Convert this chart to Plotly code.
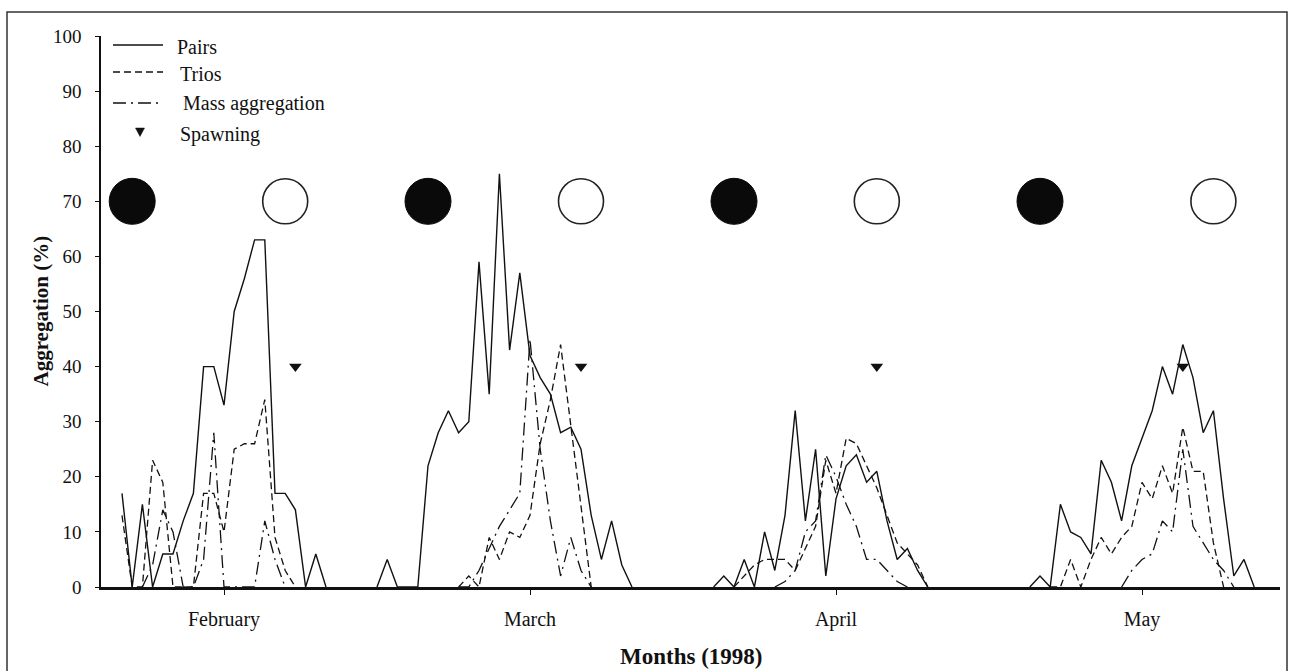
import plotly.graph_objects as go

# ---------------- data (day index: Feb tick = 15, Mar = 45, Apr = 75, May = 105) ----------------
MONTH_TICK_DAYS = [15, 45, 75, 105]
MONTH_LABELS = ["February", "March", "April", "May"]

PAIRS_FEB_START = 5
PAIRS_FEB = [17, 0, 15, 0, 6, 6, 12, 17, 40, 40, 33, 50, 56, 63, 63, 17, 17, 14, 0, 6, 0]
PAIRS_MAR_START = 30
PAIRS_MAR = [0, 5, 0, 0, 0, 22, 28, 32, 28, 30, 59, 35, 75, 43, 57, 42, 38, 35, 28, 29, 25, 13, 5, 12, 4, 0]
PAIRS_APR_START = 63
PAIRS_APR = [0, 2, 0, 5, 0, 10, 3, 13, 32, 12, 25, 2, 16, 22, 24, 19, 21, 12, 5, 7, 3, 0]
PAIRS_MAY_START = 94
PAIRS_MAY = [0, 2, 0, 15, 10, 9, 6, 23, 19, 12, 22, 27, 32, 40, 35, 44, 38, 28, 32, 16, 2, 5, 0]

TRIOS_FEB_START = 5
TRIOS_FEB = [13, 0, 0, 23, 19, 0, 0, 0, 17, 17, 10, 25, 26, 26, 34, 9, 3, 0]
TRIOS_MAR_START = 38
TRIOS_MAR = [0, 2, 0, 9, 5, 10, 9, 13, 26, 34, 44, 29, 14, 0]
TRIOS_APR_START = 65
TRIOS_APR = [0, 2, 4, 5, 5, 5, 3, 7, 11, 23, 17, 27, 26, 22, 18, 13, 8, 6, 4, 0]
TRIOS_MAY_START = 96
TRIOS_MAY = [0, 0, 5, 0, 5, 9, 6, 9, 11, 19, 16, 22, 17, 29, 21, 21, 8, 0]

MASS_FEB_START = 7
MASS_FEB = [0, 4, 14, 10, 0, 0, 5, 28, 0, 0, 0, 0, 12, 5, 0]
MASS_MAR_START = 38
MASS_MAR = [0, 0, 3, 7, 11, 14, 17, 45, 25, 12, 2, 9, 3, 0]
MASS_APR_START = 69
MASS_APR = [0, 1, 3, 10, 12, 24, 20, 15, 11, 5, 5, 3, 1, 0]
MASS_MAY_START = 103
MASS_MAY = [0, 3, 5, 6, 12, 10, 25, 11, 8, 5, 3, 0]

SPAWN_DAYS = [22, 50, 79, 109]
SPAWN_VALUES = [40, 40, 40, 40]

NEW_MOON_DAYS = [6, 35, 65, 95]
FULL_MOON_DAYS = [21, 50, 79, 112]
MOON_LEVEL = 70

Y_TICKS = list(range(0, 101, 10))


def build(segments):
    xs, ys = [], []
    for start, vals in segments:
        xs += [start + i for i in range(len(vals))] + [None]
        ys += list(vals) + [None]
    return xs, ys


px_, py_ = build([(PAIRS_FEB_START, PAIRS_FEB), (PAIRS_MAR_START, PAIRS_MAR),
                  (PAIRS_APR_START, PAIRS_APR), (PAIRS_MAY_START, PAIRS_MAY)])
tx_, ty_ = build([(TRIOS_FEB_START, TRIOS_FEB), (TRIOS_MAR_START, TRIOS_MAR),
                  (TRIOS_APR_START, TRIOS_APR), (TRIOS_MAY_START, TRIOS_MAY)])
mx_, my_ = build([(MASS_FEB_START, MASS_FEB), (MASS_MAR_START, MASS_MAR),
                  (MASS_APR_START, MASS_APR), (MASS_MAY_START, MASS_MAY)])

FONT = "Liberation Serif, Times New Roman, serif"
TRIOS_DASH = "7px,4px"
MASS_DASH = "13px,5px,2px,5px"

fig = go.Figure()
fig.add_trace(go.Scatter(x=mx_, y=my_, mode="lines", name="Mass aggregation",
                         line=dict(color="#111", width=1.3, dash=MASS_DASH), connectgaps=False))
fig.add_trace(go.Scatter(x=tx_, y=ty_, mode="lines", name="Trios",
                         line=dict(color="#111", width=1.3, dash=TRIOS_DASH), connectgaps=False))
fig.add_trace(go.Scatter(x=px_, y=py_, mode="lines", name="Pairs",
                         line=dict(color="#111", width=1.4), connectgaps=False))
fig.add_trace(go.Scatter(x=SPAWN_DAYS, y=SPAWN_VALUES, mode="markers", name="Spawning",
                         marker=dict(symbol="triangle-down", size=11, color="#111")))
fig.add_trace(go.Scatter(x=NEW_MOON_DAYS, y=[MOON_LEVEL] * len(NEW_MOON_DAYS), mode="markers",
                         marker=dict(symbol="circle", size=46, color="#0a0a0a",
                                     line=dict(color="#0a0a0a", width=1))))
fig.add_trace(go.Scatter(x=FULL_MOON_DAYS, y=[MOON_LEVEL] * len(FULL_MOON_DAYS), mode="markers",
                         marker=dict(symbol="circle", size=45, color="white",
                                     line=dict(color="#222", width=1.6))))

# pixel geometry of the plot area
L, R, T, B = 101, 1280, 36, 587


def pxx(p):
    return (p - L) / (R - L)


def pyy(p):
    return (B - p) / (B - T)


shapes = [
    dict(type="rect", xref="paper", yref="paper", x0=pxx(7), x1=pxx(1287), y0=pyy(690), y1=pyy(12),
         line=dict(color="#333", width=1.5)),
]
annotations = []
legend_items = [
    ("Pairs", 45, 47, None, 175),
    ("Trios", 72, 74, TRIOS_DASH, 178),
    ("Mass aggregation", 103, 104, MASS_DASH, 181),
]
for text, ly, ty, dash, tx in legend_items:
    ln = dict(color="#111", width=1.4)
    if dash:
        ln["dash"] = dash
    shapes.append(dict(type="line", xref="paper", yref="paper", x0=pxx(113), x1=pxx(163),
                       y0=pyy(ly), y1=pyy(ly), line=ln))
    annotations.append(dict(text=text, xref="paper", yref="paper", x=pxx(tx), y=pyy(ty),
                            xanchor="left", yanchor="middle", showarrow=False,
                            font=dict(family=FONT, size=20, color="#111")))
# spawning legend glyph
cx, cy = 140, 132
shapes.append(dict(type="path", xref="paper", yref="paper",
                   path=f"M {pxx(cx-4.5)},{pyy(cy-4)} L {pxx(cx+4.5)},{pyy(cy-4)} L {pxx(cx)},{pyy(cy+4.5)} Z",
                   fillcolor="#111", line=dict(color="#111", width=0.5)))
annotations.append(dict(text="Spawning", xref="paper", yref="paper", x=pxx(178), y=pyy(134),
                        xanchor="left", yanchor="middle", showarrow=False,
                        font=dict(family=FONT, size=20, color="#111")))
# axis titles
annotations.append(dict(text="<b>Months (1998)</b>", xref="paper", yref="paper", x=0.5, y=pyy(656),
                        xanchor="center", yanchor="middle", showarrow=False,
                        font=dict(family=FONT, size=23, color="#111")))
annotations.append(dict(text="<b>Aggregation (%)</b>", xref="paper", yref="paper", x=pxx(40), y=0.5,
                        xanchor="center", yanchor="middle", showarrow=False, textangle=-90,
                        font=dict(family=FONT, size=21, color="#111")))

fig.update_layout(
    width=1294, height=671,
    margin=dict(l=L, r=1294 - R, t=T, b=671 - B),
    paper_bgcolor="white", plot_bgcolor="white",
    showlegend=False,
    shapes=shapes, annotations=annotations,
    font=dict(family=FONT, size=18, color="#111"),
)
fig.update_xaxes(
    range=[15 + (L - 224) / 10.2, 15 + (R - 224) / 10.2],
    tickvals=MONTH_TICK_DAYS, ticktext=MONTH_LABELS,
    ticks="outside", ticklen=5, tickwidth=1, tickcolor="#111",
    showline=True, linecolor="#111", linewidth=3,
    showgrid=False, zeroline=False,
    tickfont=dict(family=FONT, size=20, color="#111"),
    ticklabelstandoff=7,
)
fig.update_yaxes(
    range=[0, 100],
    tickvals=Y_TICKS,
    ticks="outside", ticklen=4, tickwidth=1, tickcolor="#111",
    showline=True, linecolor="#111", linewidth=1.5,
    showgrid=False, zeroline=False,
    tickfont=dict(family=FONT, size=19, color="#111"),
    ticklabelstandoff=10,
)

fig.write_html("out.html", config={"displayModeBar": False},
               post_script="document.body.style.margin='0';document.body.style.overflow='hidden';")
